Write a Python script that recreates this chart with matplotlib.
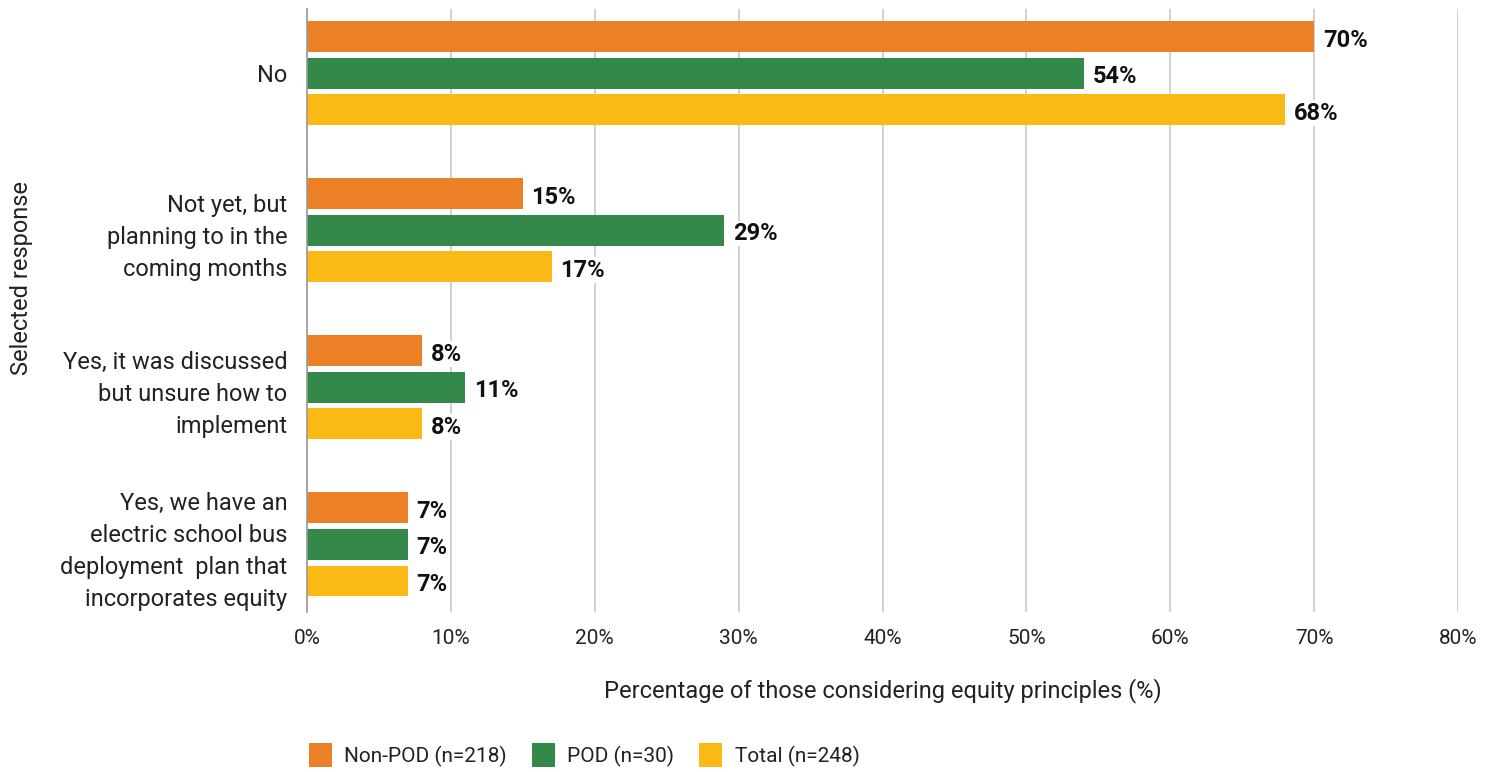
import numpy as np
import matplotlib
matplotlib.use("Agg")
import matplotlib.pyplot as plt
from matplotlib.patches import Patch

plt.rcParams['font.family'] = ['Roboto', 'DejaVu Sans']

# survey responses, top to bottom
categories = [
    "No",
    "Not yet, but\nplanning to in the\ncoming months",
    "Yes, it was discussed\nbut unsure how to\nimplement",
    "Yes, we have an\nelectric school bus\ndeployment  plan that\nincorporates equity",
]
series_names = ["Non-POD (n=218)", "POD (n=30)", "Total (n=248)"]
non_pod = [70, 15, 8, 7]
pod = [54, 29, 11, 7]
total = [68, 17, 8, 7]
xticks = [0, 10, 20, 30, 40, 50, 60, 70, 80]

colors = ["#EC8026", "#33884A", "#FBB915"]

fig = plt.figure(figsize=(14.94, 7.72), dpi=100)
ax = fig.add_axes([307/1494, 1 - 612/772, (1458-307)/1494, (612-9)/772])

y = np.arange(len(categories))
bar_h = 0.197
step = 0.2325
for i, (vals, col, name) in enumerate(zip([non_pod, pod, total], colors, series_names)):
    pos = y + (i - 1) * step
    ax.barh(pos, vals, height=bar_h, color=col, label=name, zorder=2)
    for p, v in zip(pos, vals):
        ax.text(v + 0.6, p + 0.02, f"{v}%", va='center', ha='left', fontsize=17,
                fontweight='bold', color='#111111', zorder=3,
                bbox=dict(facecolor='white', edgecolor='none', pad=1))

ax.set_xlim(0, 80)
ax.set_ylim(3.43, -0.41)
ax.set_xticks(xticks)
ax.set_xticklabels([f"{t}%" for t in xticks], fontsize=15, color='#222222')
ax.set_yticks(y)
ax.set_yticklabels(categories, fontsize=17, color='#222222', linespacing=1.5)
ax.tick_params(axis='x', length=0, pad=12)
ax.tick_params(axis='y', length=0, pad=14)
ax.grid(axis='x', color='#c8c8c8', linewidth=1.2, zorder=0)
ax.set_axisbelow(True)
for s in ['top', 'right', 'bottom']:
    ax.spines[s].set_visible(False)
ax.spines['left'].set_color('#999999')
ax.spines['left'].set_linewidth(1.2)

ax.set_xlabel("Percentage of those considering equity principles (%)", fontsize=17,
              color='#222222', labelpad=22)
fig.text(22/1494, 1 - 278/772, "Selected response", rotation=90, fontsize=17,
         color='#222222', ha='center', va='center')

handles = [Patch(facecolor=c, edgecolor='none') for c in colors]
fig.legend(handles, series_names, loc='lower left', bbox_to_anchor=(290/1494, -0.018),
           ncol=3, frameon=False, fontsize=15, handlelength=1.1, handleheight=1.4,
           handletextpad=0.6, columnspacing=1.2, labelcolor='#222222')

fig.savefig("out.png", dpi=100)
